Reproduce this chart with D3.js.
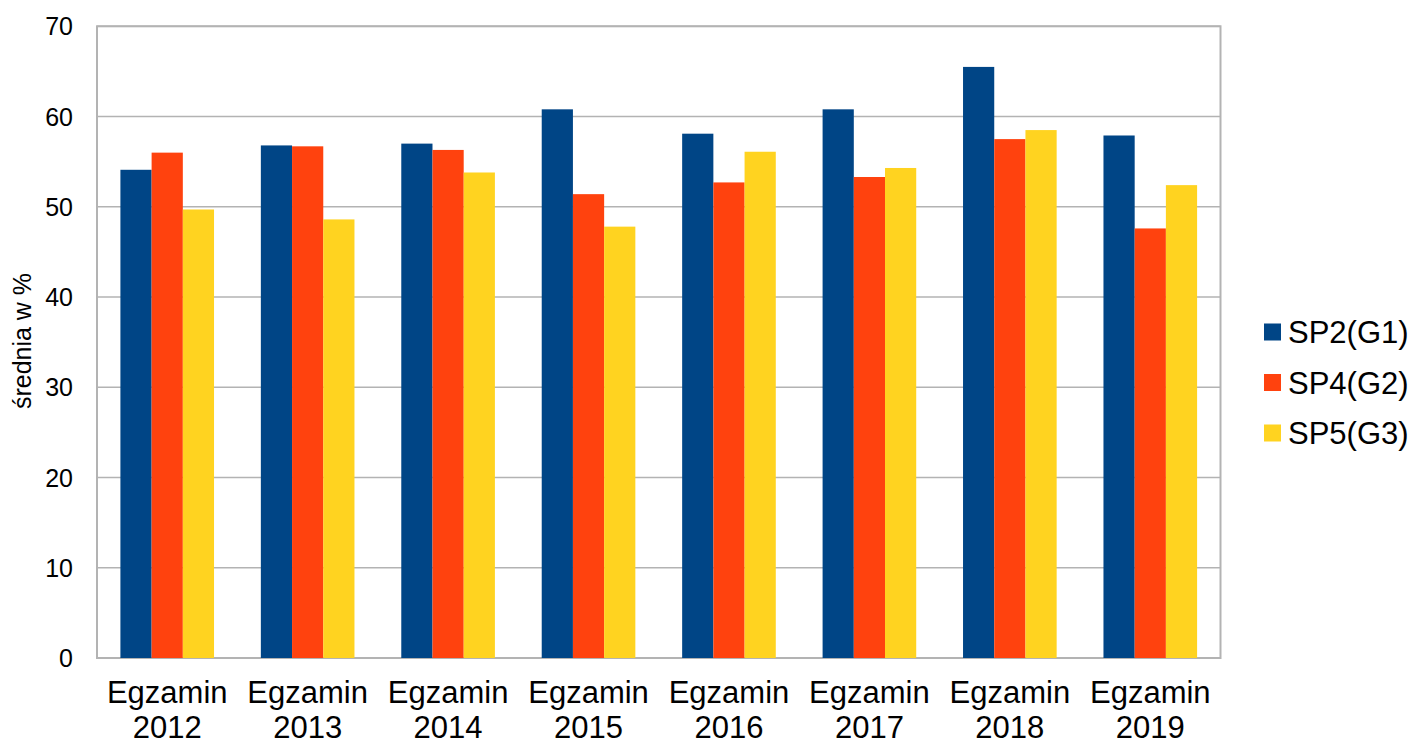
<!DOCTYPE html>
<html><head><meta charset="utf-8">
<script src="https://cdn.jsdelivr.net/npm/d3@7"></script>
<style>body{margin:0;background:#fff;overflow:hidden}svg{display:block;font-family:"Liberation Sans",Arial,sans-serif}</style>
</head><body>
<svg id="c" width="1414" height="745"></svg>
<script>
const categories = ["2012","2013","2014","2015","2016","2017","2018","2019"];
const seriesNames = ["SP2(G1)","SP4(G2)","SP5(G3)"];
const sp2 = [54.1,56.8,57.0,60.8,58.1,60.8,65.5,57.9];
const sp4 = [56.0,56.7,56.3,51.4,52.7,53.3,57.5,47.6];
const sp5 = [49.7,48.6,53.8,47.8,56.1,54.3,58.5,52.4];
const yTicks = [0,10,20,30,40,50,60,70];
const colors = ["#004586","#ff420e","#ffd320"];
const series = [sp2, sp4, sp5];

const svg = d3.select("#c");
const L = 97, R = 1220.5, T = 26.3, B = 658;
const x = d3.scaleBand().domain(categories).range([L, R]);
const y = d3.scaleLinear().domain([0,70]).range([B, T]);
const bw = x.bandwidth()*2/3;
const xs = d3.scaleBand().domain(d3.range(3)).range([0, bw]);

// gridlines
svg.append("g").selectAll("line").data(yTicks).join("line")
  .attr("x1", L).attr("x2", R).attr("y1", d=>y(d)).attr("y2", d=>y(d))
  .attr("stroke", "#b3b3b3").attr("stroke-width", 1.5);
// border
svg.append("rect").attr("x", L).attr("y", T).attr("width", R-L).attr("height", B-T)
  .attr("fill","none").attr("stroke","#b3b3b3").attr("stroke-width",2);

// bars
const groups = svg.append("g").selectAll("g").data(categories).join("g")
  .attr("transform", d=>`translate(${x(d)+(x.bandwidth()-bw)/2},0)`);
groups.selectAll("rect").data((d,i)=>series.map((s,j)=>({j, v:s[i]}))).join("rect")
  .attr("x", d=>xs(d.j)).attr("width", xs.bandwidth())
  .attr("y", d=>y(d.v)).attr("height", d=>B-y(d.v))
  .attr("fill", d=>colors[d.j]);

// y tick labels
svg.append("g").selectAll("text").data(yTicks).join("text")
  .attr("x", 73).attr("y", d=>y(d)).attr("dy","0.36em")
  .attr("text-anchor","end").attr("font-size", 25).attr("fill","#000").text(d=>d);

// y axis title
svg.append("text").attr("transform", `translate(31,341) rotate(-90)`)
  .attr("text-anchor","middle").attr("font-size",25).text("średnia w %");

// x labels
const xl = svg.append("g").selectAll("text").data(categories).join("text")
  .attr("text-anchor","middle").attr("font-size",31).attr("fill","#000");
xl.append("tspan").attr("x", d=>x(d)+x.bandwidth()/2).attr("y", 703).text("Egzamin");
xl.append("tspan").attr("x", d=>x(d)+x.bandwidth()/2).attr("y", 738).text(d=>d);

// legend
const lg = svg.append("g").selectAll("g").data(seriesNames).join("g")
  .attr("transform", (d,i)=>`translate(1264,${332 + i*50.5})`);
lg.append("rect").attr("x",0).attr("y",-8.5).attr("width",17).attr("height",17).attr("fill",(d,i)=>colors[i]);
lg.append("text").attr("x",24).attr("y",0).attr("dy","0.36em").attr("font-size",31).text(d=>d);
</script>
</body></html>
